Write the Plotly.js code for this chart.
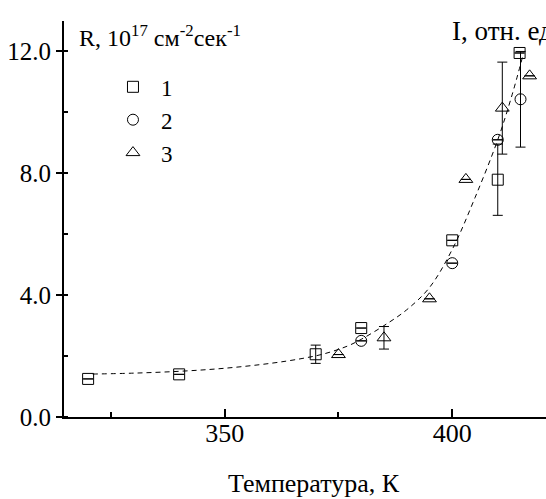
<!DOCTYPE html>
<html>
<head>
<meta charset="utf-8">
<script src="https://cdn.plot.ly/plotly-3.0.1.min.js"></script>
<style>html,body{margin:0;padding:0;background:#fff;overflow:hidden}</style>
</head>
<body>
<div id="chart" style="width:546px;height:499px"></div>
<script>
// Series 1 (squares)
const s1X = [320, 340, 370, 380, 400, 410, 414.8];
const s1Y = [1.25, 1.4, 2.06, 2.92, 5.8, 7.79, 11.95];
const s1Err = [null, null, 0.3, null, null, 1.17, null];
// Series 2 (circles)
const s2X = [380, 400, 410, 415];
const s2Y = [2.5, 5.05, 9.1, 10.43];
const s2Err = [null, null, null, 1.57];
// Series 3 (triangles)
const s3X = [375, 385, 395, 403, 411, 417];
const s3Y = [2.05, 2.6, 3.88, 7.8, 10.14, 11.2];
const s3Err = [null, 0.37, null, null, 1.51, null];
// Dashed fit curve
const fitX = [321, 330, 340, 350, 360, 367, 372, 377, 380, 385, 390, 395, 400, 405, 410, 413, 415.5];
const fitY = [1.41, 1.44, 1.5, 1.6, 1.76, 1.92, 2.08, 2.33, 2.55, 3.0, 3.52, 4.25, 5.5, 7.2, 9.1, 10.5, 11.85];
// Labels
const legendNames = ['1', '2', '3'];
const xTitle = 'Температура, К';
const yLabel = 'R, 10<sup>17</sup> см<sup>-2</sup>сек<sup>-1</sup>';
const rightLabel = 'I, отн. ед.';

const FONT = 'Liberation Serif';
const mk = (sym, size) => ({symbol: sym, size: size, color: '#000', line: {color: '#000', width: 1}});
const err = (arr) => ({type: 'data', array: arr, visible: true, color: '#000', thickness: 1, width: 5});

const traces = [
  {x: fitX, y: fitY, mode: 'lines', line: {color: '#000', width: 1, dash: '5px,4px', shape: 'spline', smoothing: 1}, showlegend: false, hoverinfo: 'skip'},
  {x: s1X, y: s1Y, mode: 'markers', name: legendNames[0], marker: mk('square-open', 11), error_y: err(s1Err)},
  {x: s2X, y: s2Y, mode: 'markers', name: legendNames[1], marker: mk('circle-open', 11), error_y: err(s2Err)},
  {x: s3X, y: s3Y, mode: 'markers', name: legendNames[2], marker: mk('triangle-up-open', 12), error_y: err(s3Err)}
];

const layout = {
  width: 546, height: 499,
  margin: {l: 64, r: 0, t: 21, b: 82, pad: 0},
  paper_bgcolor: '#fff', plot_bgcolor: '#fff',
  font: {family: FONT, size: 24, color: '#000'},
  showlegend: true,
  legend: {x: 0.085, y: 0.888, xanchor: 'left', yanchor: 'top', bgcolor: 'rgba(0,0,0,0)', font: {family: FONT, size: 23}, itemwidth: 46, tracegroupgap: 0},
  xaxis: {
    range: [314.7, 420.6], showgrid: false, zeroline: false,
    showline: true, linecolor: '#000', linewidth: 2,
    ticks: 'inside', ticklen: 8, tickwidth: 2, tickcolor: '#000',
    tickmode: 'linear', tick0: 350, dtick: 50,
    minor: {ticks: 'inside', ticklen: 5, tickwidth: 2, tickcolor: '#000', dtick: 25, tick0: 325, showgrid: false},
    tickfont: {family: FONT, size: 26},
    ticklabelstandoff: -8
  },
  yaxis: {
    range: [0, 13.0], showgrid: false, zeroline: false,
    showline: true, linecolor: '#000', linewidth: 2,
    ticks: 'outside', ticklen: 6, tickwidth: 2, tickcolor: '#000',
    tickmode: 'linear', tick0: 0, dtick: 4, tickformat: '.1f',
    minor: {ticks: 'inside', ticklen: 4, tickwidth: 2, tickcolor: '#000', dtick: 2, tick0: 0, showgrid: false},
    tickfont: {family: FONT, size: 25}
  },
  annotations: [
    {xref: 'paper', yref: 'paper', x: (77 - 64) / 482, y: (417 - 36) / 396, xanchor: 'left', yanchor: 'middle', text: yLabel, showarrow: false, font: {family: FONT, size: 24}},
    {xref: 'paper', yref: 'paper', x: (450 - 64) / 482, y: (417 - 31) / 396, xanchor: 'left', yanchor: 'middle', text: rightLabel, showarrow: false, font: {family: FONT, size: 27}},
    {xref: 'paper', yref: 'paper', x: (314 - 64) / 482, y: (417 - 484) / 396, xanchor: 'center', yanchor: 'middle', text: xTitle, showarrow: false, font: {family: FONT, size: 26}}
  ]
};

Plotly.newPlot('chart', traces, layout, {displayModeBar: false, staticPlot: true});
</script>
</body>
</html>
